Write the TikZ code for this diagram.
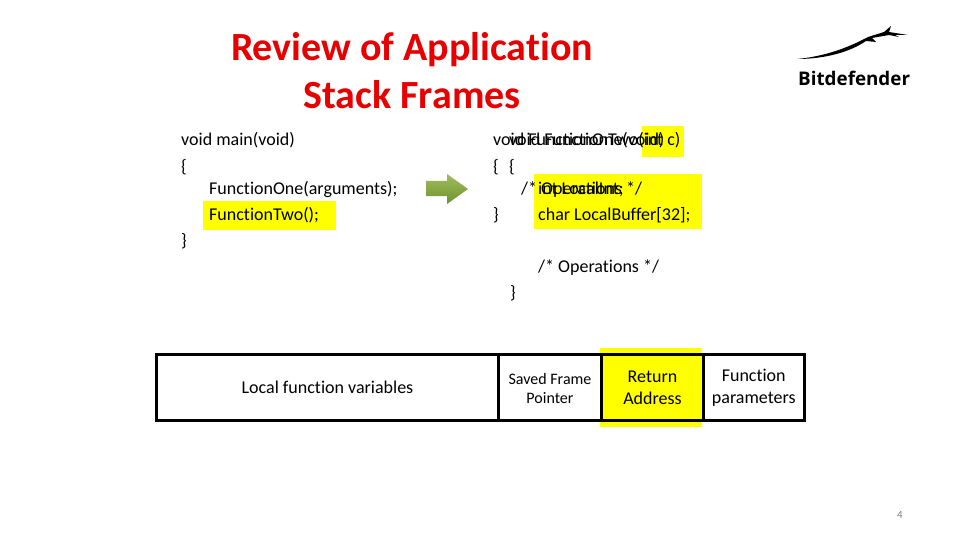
\documentclass[tikz,border=0pt]{standalone}
\usepackage{fontspec}
\setmainfont[Ligatures=NoCommon]{Carlito}
\newfontfamily\logofont{Open Sans}
\usetikzlibrary{positioning,backgrounds}
\definecolor{marker}{RGB}{255,255,0}
\definecolor{titlered}{RGB}{230,0,0}
\definecolor{arrowtop}{RGB}{160,190,90}
\definecolor{arrowbot}{RGB}{112,145,50}
\newcommand\cellh{66}
\newcommand\lift{\rule{0pt}{14pt}}
\begin{document}
\begin{tikzpicture}[
    x=1pt,y=-1pt,
    code/.style={anchor=base west,inner sep=0pt,font=\fontsize{18}{18}\selectfont},
    headline/.style={anchor=base,inner sep=0pt,text=titlered,font=\fontsize{40}{40}\selectfont\bfseries},
    cell/.style={draw,line width=3pt,outer sep=0pt,minimum height=\cellh pt,inner sep=0pt,anchor=north west,align=center,font=\fontsize{18}{22}\selectfont},
    highlight/.style={fill=marker,draw=none}
  ]
    \useasboundingbox (0,0) rectangle (960,540);

    % title
    \node[headline] (title1) at (412,61) {Review of Application};
    \node[headline] (title2) at (412,109) {Stack Frames};

    % logo
    \fill (797,59) .. controls (830,56) and (855,44) .. (868,37)
      -- (884,32) -- (891,26) -- (889,32) -- (908,35) -- (895,35) -- (899,37) -- (889,35)
      -- (872,38) -- (876,42) -- (866,41) .. controls (850,52) and (825,59) .. (797,59) -- cycle;
    \node[anchor=base west,inner sep=0pt,font=\logofont\fontsize{18.8}{20}\selectfont\bfseries] (logo) at (798,86) {Bitdefender};

    % yellow markers
    \begin{scope}[on background layer]
      \fill[highlight] (203,201) rectangle (336,230);
      \fill[highlight] (642,126) rectangle (684,157);
      \fill[highlight] (534,174) rectangle (702,229);
      \fill[highlight] (600,348) rectangle (702,427);
    \end{scope}

    % main
    \node[code] (m1) at (181,146) {void main(void)};
    \node[code] (m2) at (181,172) {\{};
    \node[code] (m3) at (209,194) {FunctionOne(arguments);};
    \node[code] (m4) at (209,220) {FunctionTwo();};
    \node[code] (m5) at (181,246) {\}};

    % arrow
    \shade[top color=arrowtop,bottom color=arrowbot] (426,181) -- (447,181) -- (447,174) -- (468,189) -- (447,204) -- (447,196) -- (426,196) -- cycle;

    % first function
    \node[code] (a1) at (493,146) {void FunctionOne(void)};
    \node[code] (a2) at (493,172) {\{};
    \node[code] (a3) at (521,194) {/* Operations */};
    \node[code] (a4) at (493,220) {\}};

    % second function
    \node[code] (b1) at (509,146) {void FunctionTwo(int c)};
    \node[code] (b2) at (509,172) {\{};
    \node[code] (b3) at (538,194) {int LocalInt;};
    \node[code] (b4) at (538,220) {char LocalBuffer[32];};
    \node[code] (b5) at (538,272) {/* Operations */};
    \node[code] (b6) at (510,298) {\}};

    % stack
    \node[cell,minimum width=342pt] (locals) at (156.5,354) {Local function variables};
    \node[cell,minimum width=103pt,font=\fontsize{16}{19}\selectfont] (frame) at (498.5,354) {\lift Saved Frame\\Pointer};
    \node[cell,minimum width=102pt] (ret) at (601.5,354) {\lift Return\\Address};
    \node[cell,minimum width=100.5pt] (params) at (703.5,354) {\lift Function\\parameters};

    \node[anchor=center,inner sep=0pt,text=gray,font=\fontsize{11}{11}\selectfont] (page) at (900,515) {4};
  \end{tikzpicture}
\end{document}
